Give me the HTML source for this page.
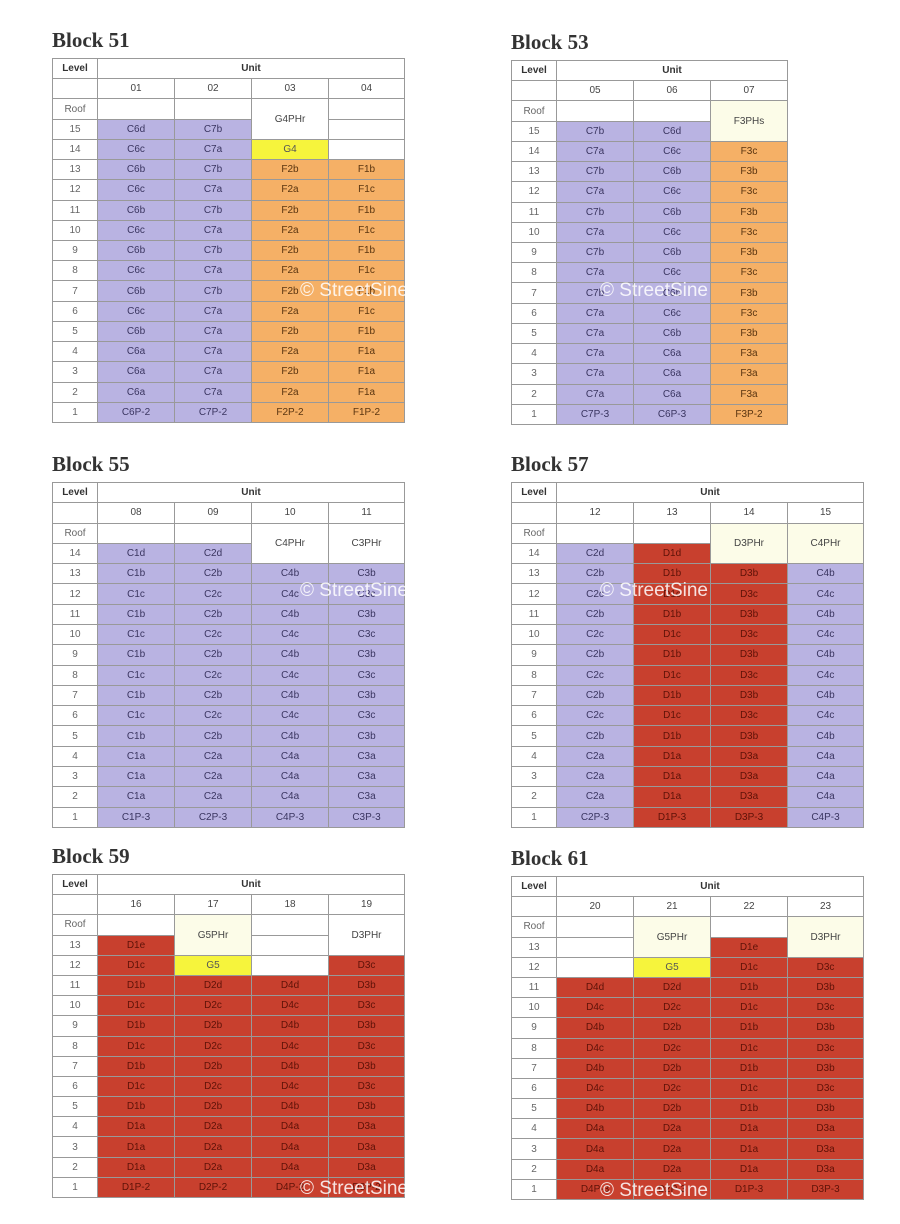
<!DOCTYPE html>
<html><head><meta charset="utf-8"><style>
body{margin:0;width:900px;height:1224px;background:#fff;position:relative;overflow:hidden;font-family:"Liberation Sans",sans-serif}
h2{position:absolute;margin:0;font:bold 21px "Liberation Serif",serif;color:#333}
table{position:absolute;border-collapse:collapse;table-layout:fixed;font-size:10px;color:#444}
td{border:1px solid #999;padding:0;text-align:center;height:10px;overflow:hidden;white-space:nowrap}
td:first-child{color:#666}
tr:first-child td{font-weight:bold;color:#333}
.l{background:#b9b3e2;color:#3a3560}
.o{background:#f5b066;color:#5a3510}
.r{background:#c8402e;color:#5e1208}
.y{background:#f6f43c;color:#555}
.c{background:#fcfce8}
.wm{position:absolute;color:rgba(255,255,255,.85);font-size:19px;white-space:nowrap}
</style></head><body>

<h2 style="left:52px;top:28px">Block 51</h2>
<table style="left:52px;top:58px;width:352px;height:365px">
<colgroup><col style="width:45px"><col style="width:77px"><col style="width:77px"><col style="width:77px"><col style="width:76px"></colgroup>
<tr><td>Level</td><td colspan="4">Unit</td></tr>
<tr><td></td><td>01</td><td>02</td><td>03</td><td>04</td></tr>
<tr><td>Roof</td><td></td><td></td><td rowspan="2">G4PHr</td><td></td></tr>
<tr><td>15</td><td class="l">C6d</td><td class="l">C7b</td><td></td></tr>
<tr><td>14</td><td class="l">C6c</td><td class="l">C7a</td><td class="y">G4</td><td></td></tr>
<tr><td>13</td><td class="l">C6b</td><td class="l">C7b</td><td class="o">F2b</td><td class="o">F1b</td></tr>
<tr><td>12</td><td class="l">C6c</td><td class="l">C7a</td><td class="o">F2a</td><td class="o">F1c</td></tr>
<tr><td>11</td><td class="l">C6b</td><td class="l">C7b</td><td class="o">F2b</td><td class="o">F1b</td></tr>
<tr><td>10</td><td class="l">C6c</td><td class="l">C7a</td><td class="o">F2a</td><td class="o">F1c</td></tr>
<tr><td>9</td><td class="l">C6b</td><td class="l">C7b</td><td class="o">F2b</td><td class="o">F1b</td></tr>
<tr><td>8</td><td class="l">C6c</td><td class="l">C7a</td><td class="o">F2a</td><td class="o">F1c</td></tr>
<tr><td>7</td><td class="l">C6b</td><td class="l">C7b</td><td class="o">F2b</td><td class="o">F1b</td></tr>
<tr><td>6</td><td class="l">C6c</td><td class="l">C7a</td><td class="o">F2a</td><td class="o">F1c</td></tr>
<tr><td>5</td><td class="l">C6b</td><td class="l">C7a</td><td class="o">F2b</td><td class="o">F1b</td></tr>
<tr><td>4</td><td class="l">C6a</td><td class="l">C7a</td><td class="o">F2a</td><td class="o">F1a</td></tr>
<tr><td>3</td><td class="l">C6a</td><td class="l">C7a</td><td class="o">F2b</td><td class="o">F1a</td></tr>
<tr><td>2</td><td class="l">C6a</td><td class="l">C7a</td><td class="o">F2a</td><td class="o">F1a</td></tr>
<tr><td>1</td><td class="l">C6P-2</td><td class="l">C7P-2</td><td class="o">F2P-2</td><td class="o">F1P-2</td></tr>
</table>

<h2 style="left:511px;top:30px">Block 53</h2>
<table style="left:511px;top:60px;width:276px;height:365px">
<colgroup><col style="width:45px"><col style="width:77px"><col style="width:77px"><col style="width:77px"></colgroup>
<tr><td>Level</td><td colspan="3">Unit</td></tr>
<tr><td></td><td>05</td><td>06</td><td>07</td></tr>
<tr><td>Roof</td><td></td><td></td><td rowspan="2" class="c">F3PHs</td></tr>
<tr><td>15</td><td class="l">C7b</td><td class="l">C6d</td></tr>
<tr><td>14</td><td class="l">C7a</td><td class="l">C6c</td><td class="o">F3c</td></tr>
<tr><td>13</td><td class="l">C7b</td><td class="l">C6b</td><td class="o">F3b</td></tr>
<tr><td>12</td><td class="l">C7a</td><td class="l">C6c</td><td class="o">F3c</td></tr>
<tr><td>11</td><td class="l">C7b</td><td class="l">C6b</td><td class="o">F3b</td></tr>
<tr><td>10</td><td class="l">C7a</td><td class="l">C6c</td><td class="o">F3c</td></tr>
<tr><td>9</td><td class="l">C7b</td><td class="l">C6b</td><td class="o">F3b</td></tr>
<tr><td>8</td><td class="l">C7a</td><td class="l">C6c</td><td class="o">F3c</td></tr>
<tr><td>7</td><td class="l">C7b</td><td class="l">C6b</td><td class="o">F3b</td></tr>
<tr><td>6</td><td class="l">C7a</td><td class="l">C6c</td><td class="o">F3c</td></tr>
<tr><td>5</td><td class="l">C7a</td><td class="l">C6b</td><td class="o">F3b</td></tr>
<tr><td>4</td><td class="l">C7a</td><td class="l">C6a</td><td class="o">F3a</td></tr>
<tr><td>3</td><td class="l">C7a</td><td class="l">C6a</td><td class="o">F3a</td></tr>
<tr><td>2</td><td class="l">C7a</td><td class="l">C6a</td><td class="o">F3a</td></tr>
<tr><td>1</td><td class="l">C7P-3</td><td class="l">C6P-3</td><td class="o">F3P-2</td></tr>
</table>

<h2 style="left:52px;top:452px">Block 55</h2>
<table style="left:52px;top:482px;width:352px;height:346px">
<colgroup><col style="width:45px"><col style="width:77px"><col style="width:77px"><col style="width:77px"><col style="width:76px"></colgroup>
<tr><td>Level</td><td colspan="4">Unit</td></tr>
<tr><td></td><td>08</td><td>09</td><td>10</td><td>11</td></tr>
<tr><td>Roof</td><td></td><td></td><td rowspan="2">C4PHr</td><td rowspan="2">C3PHr</td></tr>
<tr><td>14</td><td class="l">C1d</td><td class="l">C2d</td></tr>
<tr><td>13</td><td class="l">C1b</td><td class="l">C2b</td><td class="l">C4b</td><td class="l">C3b</td></tr>
<tr><td>12</td><td class="l">C1c</td><td class="l">C2c</td><td class="l">C4c</td><td class="l">C3c</td></tr>
<tr><td>11</td><td class="l">C1b</td><td class="l">C2b</td><td class="l">C4b</td><td class="l">C3b</td></tr>
<tr><td>10</td><td class="l">C1c</td><td class="l">C2c</td><td class="l">C4c</td><td class="l">C3c</td></tr>
<tr><td>9</td><td class="l">C1b</td><td class="l">C2b</td><td class="l">C4b</td><td class="l">C3b</td></tr>
<tr><td>8</td><td class="l">C1c</td><td class="l">C2c</td><td class="l">C4c</td><td class="l">C3c</td></tr>
<tr><td>7</td><td class="l">C1b</td><td class="l">C2b</td><td class="l">C4b</td><td class="l">C3b</td></tr>
<tr><td>6</td><td class="l">C1c</td><td class="l">C2c</td><td class="l">C4c</td><td class="l">C3c</td></tr>
<tr><td>5</td><td class="l">C1b</td><td class="l">C2b</td><td class="l">C4b</td><td class="l">C3b</td></tr>
<tr><td>4</td><td class="l">C1a</td><td class="l">C2a</td><td class="l">C4a</td><td class="l">C3a</td></tr>
<tr><td>3</td><td class="l">C1a</td><td class="l">C2a</td><td class="l">C4a</td><td class="l">C3a</td></tr>
<tr><td>2</td><td class="l">C1a</td><td class="l">C2a</td><td class="l">C4a</td><td class="l">C3a</td></tr>
<tr><td>1</td><td class="l">C1P-3</td><td class="l">C2P-3</td><td class="l">C4P-3</td><td class="l">C3P-3</td></tr>
</table>

<h2 style="left:511px;top:452px">Block 57</h2>
<table style="left:511px;top:482px;width:352px;height:346px">
<colgroup><col style="width:45px"><col style="width:77px"><col style="width:77px"><col style="width:77px"><col style="width:76px"></colgroup>
<tr><td>Level</td><td colspan="4">Unit</td></tr>
<tr><td></td><td>12</td><td>13</td><td>14</td><td>15</td></tr>
<tr><td>Roof</td><td></td><td></td><td rowspan="2" class="c">D3PHr</td><td rowspan="2" class="c">C4PHr</td></tr>
<tr><td>14</td><td class="l">C2d</td><td class="r">D1d</td></tr>
<tr><td>13</td><td class="l">C2b</td><td class="r">D1b</td><td class="r">D3b</td><td class="l">C4b</td></tr>
<tr><td>12</td><td class="l">C2c</td><td class="r">D1c</td><td class="r">D3c</td><td class="l">C4c</td></tr>
<tr><td>11</td><td class="l">C2b</td><td class="r">D1b</td><td class="r">D3b</td><td class="l">C4b</td></tr>
<tr><td>10</td><td class="l">C2c</td><td class="r">D1c</td><td class="r">D3c</td><td class="l">C4c</td></tr>
<tr><td>9</td><td class="l">C2b</td><td class="r">D1b</td><td class="r">D3b</td><td class="l">C4b</td></tr>
<tr><td>8</td><td class="l">C2c</td><td class="r">D1c</td><td class="r">D3c</td><td class="l">C4c</td></tr>
<tr><td>7</td><td class="l">C2b</td><td class="r">D1b</td><td class="r">D3b</td><td class="l">C4b</td></tr>
<tr><td>6</td><td class="l">C2c</td><td class="r">D1c</td><td class="r">D3c</td><td class="l">C4c</td></tr>
<tr><td>5</td><td class="l">C2b</td><td class="r">D1b</td><td class="r">D3b</td><td class="l">C4b</td></tr>
<tr><td>4</td><td class="l">C2a</td><td class="r">D1a</td><td class="r">D3a</td><td class="l">C4a</td></tr>
<tr><td>3</td><td class="l">C2a</td><td class="r">D1a</td><td class="r">D3a</td><td class="l">C4a</td></tr>
<tr><td>2</td><td class="l">C2a</td><td class="r">D1a</td><td class="r">D3a</td><td class="l">C4a</td></tr>
<tr><td>1</td><td class="l">C2P-3</td><td class="r">D1P-3</td><td class="r">D3P-3</td><td class="l">C4P-3</td></tr>
</table>

<h2 style="left:52px;top:844px">Block 59</h2>
<table style="left:52px;top:874px;width:352px;height:324px">
<colgroup><col style="width:45px"><col style="width:77px"><col style="width:77px"><col style="width:77px"><col style="width:76px"></colgroup>
<tr><td>Level</td><td colspan="4">Unit</td></tr>
<tr><td></td><td>16</td><td>17</td><td>18</td><td>19</td></tr>
<tr><td>Roof</td><td></td><td rowspan="2" class="c">G5PHr</td><td></td><td rowspan="2">D3PHr</td></tr>
<tr><td>13</td><td class="r">D1e</td><td></td></tr>
<tr><td>12</td><td class="r">D1c</td><td class="y">G5</td><td></td><td class="r">D3c</td></tr>
<tr><td>11</td><td class="r">D1b</td><td class="r">D2d</td><td class="r">D4d</td><td class="r">D3b</td></tr>
<tr><td>10</td><td class="r">D1c</td><td class="r">D2c</td><td class="r">D4c</td><td class="r">D3c</td></tr>
<tr><td>9</td><td class="r">D1b</td><td class="r">D2b</td><td class="r">D4b</td><td class="r">D3b</td></tr>
<tr><td>8</td><td class="r">D1c</td><td class="r">D2c</td><td class="r">D4c</td><td class="r">D3c</td></tr>
<tr><td>7</td><td class="r">D1b</td><td class="r">D2b</td><td class="r">D4b</td><td class="r">D3b</td></tr>
<tr><td>6</td><td class="r">D1c</td><td class="r">D2c</td><td class="r">D4c</td><td class="r">D3c</td></tr>
<tr><td>5</td><td class="r">D1b</td><td class="r">D2b</td><td class="r">D4b</td><td class="r">D3b</td></tr>
<tr><td>4</td><td class="r">D1a</td><td class="r">D2a</td><td class="r">D4a</td><td class="r">D3a</td></tr>
<tr><td>3</td><td class="r">D1a</td><td class="r">D2a</td><td class="r">D4a</td><td class="r">D3a</td></tr>
<tr><td>2</td><td class="r">D1a</td><td class="r">D2a</td><td class="r">D4a</td><td class="r">D3a</td></tr>
<tr><td>1</td><td class="r">D1P-2</td><td class="r">D2P-2</td><td class="r">D4P-2</td><td class="r">D3P-2</td></tr>
</table>

<h2 style="left:511px;top:846px">Block 61</h2>
<table style="left:511px;top:876px;width:352px;height:324px">
<colgroup><col style="width:45px"><col style="width:77px"><col style="width:77px"><col style="width:77px"><col style="width:76px"></colgroup>
<tr><td>Level</td><td colspan="4">Unit</td></tr>
<tr><td></td><td>20</td><td>21</td><td>22</td><td>23</td></tr>
<tr><td>Roof</td><td></td><td rowspan="2" class="c">G5PHr</td><td></td><td rowspan="2" class="c">D3PHr</td></tr>
<tr><td>13</td><td></td><td class="r">D1e</td></tr>
<tr><td>12</td><td></td><td class="y">G5</td><td class="r">D1c</td><td class="r">D3c</td></tr>
<tr><td>11</td><td class="r">D4d</td><td class="r">D2d</td><td class="r">D1b</td><td class="r">D3b</td></tr>
<tr><td>10</td><td class="r">D4c</td><td class="r">D2c</td><td class="r">D1c</td><td class="r">D3c</td></tr>
<tr><td>9</td><td class="r">D4b</td><td class="r">D2b</td><td class="r">D1b</td><td class="r">D3b</td></tr>
<tr><td>8</td><td class="r">D4c</td><td class="r">D2c</td><td class="r">D1c</td><td class="r">D3c</td></tr>
<tr><td>7</td><td class="r">D4b</td><td class="r">D2b</td><td class="r">D1b</td><td class="r">D3b</td></tr>
<tr><td>6</td><td class="r">D4c</td><td class="r">D2c</td><td class="r">D1c</td><td class="r">D3c</td></tr>
<tr><td>5</td><td class="r">D4b</td><td class="r">D2b</td><td class="r">D1b</td><td class="r">D3b</td></tr>
<tr><td>4</td><td class="r">D4a</td><td class="r">D2a</td><td class="r">D1a</td><td class="r">D3a</td></tr>
<tr><td>3</td><td class="r">D4a</td><td class="r">D2a</td><td class="r">D1a</td><td class="r">D3a</td></tr>
<tr><td>2</td><td class="r">D4a</td><td class="r">D2a</td><td class="r">D1a</td><td class="r">D3a</td></tr>
<tr><td>1</td><td class="r">D4P-3</td><td class="r">D2P-3</td><td class="r">D1P-3</td><td class="r">D3P-3</td></tr>
</table>

<div class="wm" style="left:300px;top:280px">© StreetSine</div>
<div class="wm" style="left:600px;top:280px">© StreetSine</div>
<div class="wm" style="left:300px;top:580px">© StreetSine</div>
<div class="wm" style="left:600px;top:580px">© StreetSine</div>
<div class="wm" style="left:300px;top:1178px">© StreetSine</div>
<div class="wm" style="left:600px;top:1180px">© StreetSine</div>
</body></html>
